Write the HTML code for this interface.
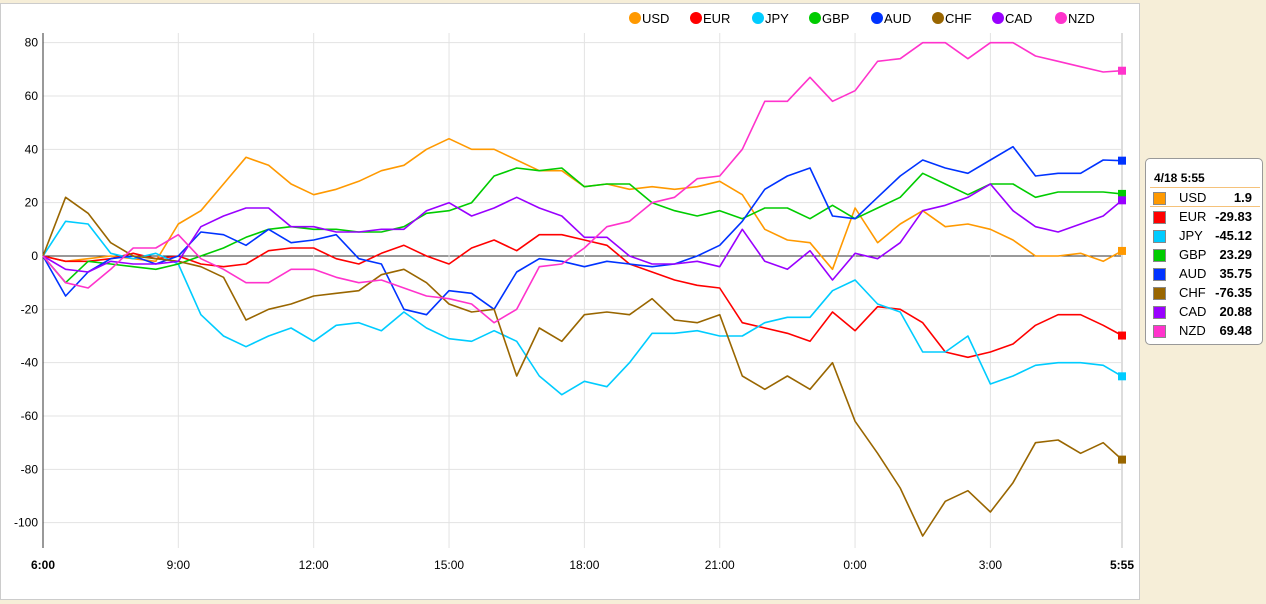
<!DOCTYPE html>
<html><head><meta charset="utf-8"><style>
html,body{margin:0;padding:0;background:#f6eed8;width:1266px;height:604px;overflow:hidden;font-family:"Liberation Sans",sans-serif}
#panel{position:absolute;left:0;top:3px;width:1140px;height:597px;background:#fff;border:1px solid #ccc;box-sizing:border-box}
#tip{position:absolute;left:1145px;top:158px;width:118px;height:187px;background:#fff;border:1px solid #999;border-radius:5px;box-sizing:border-box;font-size:13px}
</style></head><body>
<div id="panel"></div>
<svg id="chart" width="1266" height="604" style="position:absolute;left:0;top:0"></svg>
<div id="tip"></div>
<script>
const NS="http://www.w3.org/2000/svg";
const times=[];for(let i=0;i<48;i++)times.push(i*30);times.push(1435);
const names=["USD","EUR","JPY","GBP","AUD","CHF","CAD","NZD"];
const colors=["#ff9900","#ff0000","#00ccff","#00cc00","#0033ff","#996600","#9900ff","#ff33cc"];
const usd=[0,-2,-1,0,-1,-2,12,17,27,37,34,27,23,25,28,32,34,40,44,40,40,36,32,32,26,27,25,26,25,26,28,23,10,6,5,-5,18,5,12,17,11,12,10,6,0,0,1,-2,1.9];
const eur=[0,-2,-2,-1,1,-1,0,-3,-4,-3,2,3,3,-1,-3,1,4,0,-3,3,6,2,8,8,6,4,-3,-6,-9,-11,-12,-25,-27,-29,-32,-21,-28,-19,-20,-25,-36,-38,-36,-33,-26,-22,-22,-26,-29.83];
const jpy=[0,13,12,1,-1,1,-3,-22,-30,-34,-30,-27,-32,-26,-25,-28,-21,-27,-31,-32,-28,-32,-45,-52,-47,-49,-40,-29,-29,-28,-30,-30,-25,-23,-23,-13,-9,-18,-21,-36,-36,-30,-48,-45,-41,-40,-40,-41,-45.12];
const gbp=[0,-10,-2,-3,-4,-5,-3,0,3,7,10,11,10,10,9,9,11,16,17,20,30,33,32,33,26,27,27,20,17,15,17,14,18,18,14,19,14,18,22,31,27,23,27,27,22,24,24,24,23.29];
const aud=[0,-15,-6,-1,0,-3,0,9,8,4,10,5,6,8,-1,-3,-20,-22,-13,-14,-20,-6,-1,-2,-4,-2,-3,-4,-3,0,4,13,25,30,33,15,14,22,30,36,33,31,36,41,30,31,31,36,35.75];
const chf=[0,22,16,5,0,-1,-2,-4,-8,-24,-20,-18,-15,-14,-13,-7,-5,-10,-18,-21,-20,-45,-27,-32,-22,-21,-22,-16,-24,-25,-22,-45,-50,-45,-50,-40,-62,-74,-87,-105,-92,-88,-96,-85,-70,-69,-74,-70,-76.35];
const cad=[0,-5,-6,-2,-3,-3,-2,11,15,18,18,11,11,9,9,10,10,17,20,15,18,22,18,15,7,7,0,-3,-3,-2,-4,10,-2,-5,2,-9,1,-1,5,17,19,22,27,17,11,9,12,15,20.88];
const nzd=[0,-10,-12,-5,3,3,8,-1,-5,-10,-10,-5,-5,-8,-10,-9,-12,-15,-16,-18,-25,-20,-4,-3,3,11,13,20,22,29,30,40,58,58,67,58,62,73,74,80,80,74,80,80,75,73,71,69,69.48];
const series=[usd,eur,jpy,gbp,aud,chf,cad,nzd];
const yTicks=[80,60,40,20,0,-20,-40,-60,-80,-100];
const xTickMin=[0,180,360,540,720,900,1080,1260,1435];
const xTickLabels=["6:00","9:00","12:00","15:00","18:00","21:00","0:00","3:00","5:55"];
const tipTitle="4/18 5:55";
const tipVals=["1.9","-29.83","-45.12","23.29","35.75","-76.35","20.88","69.48"];

const X0=43,X1=1122,Y0=256,PPU=480/180;
const xs=m=>X0+(X1-X0)*m/1435;
const ys=v=>Y0-v*PPU;
const svg=document.getElementById("chart");
function mk(t,a,p){const e=document.createElementNS(NS,t);for(const k in a)e.setAttribute(k,a[k]);(p||svg).appendChild(e);return e;}
// grid
yTicks.forEach(v=>{
  const l=mk("line",{x1:X0,x2:X1,y1:ys(v),y2:ys(v),stroke:v===0?"#333":"#e3e3e3","stroke-width":1});
  
  
  const t=mk("text",{x:38,y:ys(v)+4,"text-anchor":"end","font-size":12,fill:"#000"});
  t.textContent=v;
  
  
});
mk("line",{x1:X0,x2:X0,y1:33,y2:548,stroke:"#333","stroke-width":1});
xTickMin.forEach((m,i)=>{
  if(i>0&&i<xTickMin.length-1){const g=mk("line",{x1:xs(m),x2:xs(m),y1:33,y2:548,stroke:"#e3e3e3"});
  
  }
  const t=mk("text",{x:xs(m),y:569,"text-anchor":"middle","font-size":12,"font-weight":(i===0||i===xTickMin.length-1)?"bold":"normal"});
  t.textContent=xTickLabels[i];
  
  
});
mk("line",{x1:X1,x2:X1,y1:33,y2:548,stroke:"#ddd","stroke-width":2});
// series
series.forEach((s,k)=>{
  const d=s.map((v,i)=>(i?"L":"M")+xs(times[i]).toFixed(1)+","+ys(v).toFixed(1)).join("");
  const p=mk("path",{d:d,fill:"none",stroke:colors[k],"stroke-width":1.6,"stroke-linejoin":"round"});
  
  
  const last=s[s.length-1];
  const r=mk("rect",{x:X1-4,y:ys(last)-4,width:8,height:8,fill:colors[k]});
  
  
});
// legend
const legX=[635,696,758,815,877,938,998,1061];
names.forEach((n,k)=>{
  const g=mk("g",{});
  
  
  mk("circle",{cx:legX[k],cy:18,r:6,fill:colors[k]},g);
  const t=mk("text",{x:legX[k]+7,y:23,"font-size":13,fill:"#000"},g);t.textContent=n;
});
// tooltip
const tip=document.getElementById("tip");
let h='<div style="position:absolute;left:8px;top:12px;font-weight:bold;font-size:12px">'+tipTitle+'</div>';
h+='<div style="position:absolute;left:4px;top:28px;width:110px;border-top:1px solid #f5c27a"></div>';
h+='<div style="position:absolute;left:4px;top:47px;width:110px;border-top:1px solid #f5c27a"></div>';
names.forEach((n,k)=>{
  const top=31+k*19;
  h+='<div style="position:absolute;left:0;top:'+top+'px;width:118px;height:16px">'+
  '<div style="position:absolute;left:7px;top:2px;width:11px;height:11px;background:'+colors[k]+';border:1px solid #888"></div>'+
  '<div style="position:absolute;left:33px;top:0;font-size:13px">'+n+'</div>'+
  '<div style="position:absolute;right:12px;top:0;font-size:13px;font-weight:bold">'+tipVals[k]+'</div></div>';
});
tip.innerHTML=h;
</script>
</body></html>
